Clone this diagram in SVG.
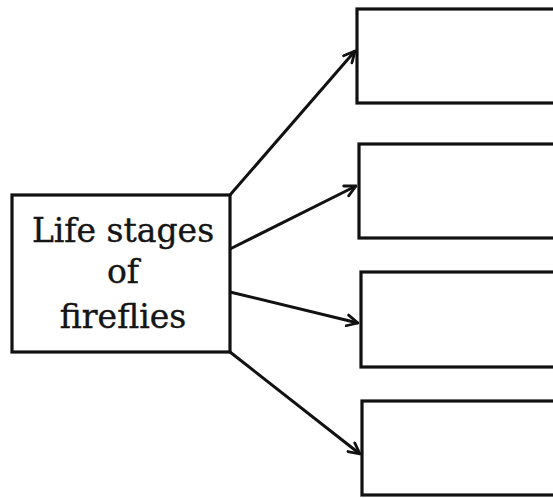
<svg xmlns="http://www.w3.org/2000/svg" width="553" height="498" viewBox="0 0 553 498">
<style>
.box{fill:#fff;stroke:#111;stroke-width:3.2}
.lbl{font-family:"DejaVu Serif","Liberation Serif",serif;font-size:33px;fill:#151515;stroke:#151515;stroke-width:0.4;text-anchor:middle}
.con{stroke:#111;stroke-width:3;fill:none;marker-end:url(#arr)}
</style>
<defs>
<marker id="arr" viewBox="0 0 14 14" refX="12.5" refY="7" markerWidth="14" markerHeight="14" markerUnits="userSpaceOnUse" orient="auto">
<path d="M1.5,1.5 L12.5,7 L1.5,12.5" fill="none" stroke="#111" stroke-width="2.8" stroke-linecap="round" stroke-linejoin="round"/>
</marker>
</defs>
<rect width="553" height="498" fill="#fff"/>
<g id="connectors">
<line class="con" x1="230" y1="195" x2="355" y2="51"/>
<line class="con" x1="230" y1="249" x2="356" y2="186"/>
<line class="con" x1="230" y1="292" x2="358" y2="323"/>
<line class="con" x1="230" y1="352" x2="360" y2="454"/>
</g>
<g id="source">
<rect class="box" x="12" y="195" width="218" height="157"/>
<text class="lbl" x="123" y="242">Life stages</text>
<text class="lbl" x="123" y="283">of</text>
<text class="lbl" x="123" y="328">fireflies</text>
</g>
<g id="stage1"><rect class="box" x="357" y="9" width="210" height="94"/></g>
<g id="stage2"><rect class="box" x="359" y="144" width="210" height="94"/></g>
<g id="stage3"><rect class="box" x="361" y="272" width="210" height="95"/></g>
<g id="stage4"><rect class="box" x="362" y="401" width="210" height="94"/></g>
</svg>
